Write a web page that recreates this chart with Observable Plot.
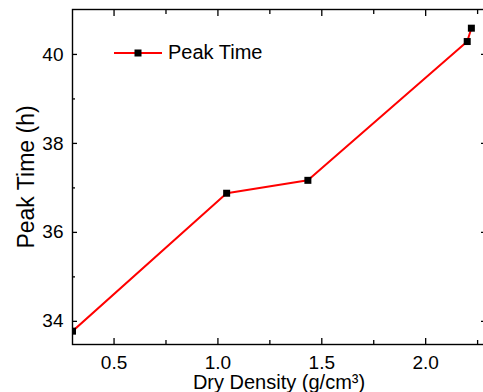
<!DOCTYPE html>
<html><head><meta charset="utf-8">
<script src="https://cdn.jsdelivr.net/npm/d3@7"></script>
<script src="https://cdn.jsdelivr.net/npm/@observablehq/plot@0.6"></script>
<style>
html,body{margin:0;padding:0;background:#fff;overflow:hidden;}
#wrap{position:relative;width:483px;height:392px;font-family:"Liberation Sans",Arial,sans-serif;}
#legend{position:absolute;left:114px;top:41px;display:flex;align-items:center;font-size:20px;line-height:23px;color:#000;}
#legend svg{display:block;margin-right:6px;}
</style></head><body><div id="wrap"><div id="legend"></div></div>
<script>
const density = [0.30, 1.042, 1.433, 2.20, 2.22];
const peakTime = [33.78, 36.88, 37.17, 40.29, 40.59];
const seriesName = "Peak Time";
const xTitle = "Dry Density (g/cm³)";
const yTitle = "Peak Time (h)";
const xTicks = [0.5, 1.0, 1.5, 2.0];
const xMinorTicks = [0.75, 1.25, 1.75, 2.25];
const yTicks = [34, 36, 38, 40];
const yMinorTicks = [35, 37, 39];

const data = density.map((d, i) => ({x: d, y: peakTime[i]}));
const blank = () => "";
const axisColor = "#000";

const chart = Plot.plot({
  width: 483,
  height: 392,
  marginLeft: 72,
  marginRight: -2,
  marginTop: 9,
  marginBottom: 48,
  style: {fontFamily: "'Liberation Sans', Arial, sans-serif", fontSize: "19px", background: "white", color: "#000"},
  x: {domain: [0.3, 2.288], axis: null},
  y: {domain: [33.48, 41.01], axis: null},
  marks: [
    Plot.line(data, {x: "x", y: "y", stroke: "#ff0000", strokeWidth: 2, clip: true}),
    Plot.dot(data, {x: "x", y: "y", symbol: "square", r: 3.95, fill: "black", stroke: "none", clip: true}),
    // bottom
    Plot.axisX({anchor: "bottom", ticks: xTicks, tickSize: -6, tickFormat: blank, strokeWidth: 1.3, label: null}),
    Plot.axisX({anchor: "bottom", ticks: xMinorTicks, tickSize: -4, tickFormat: blank, strokeWidth: 1.3, label: null}),
    Plot.axisX({anchor: "bottom", ticks: xTicks, tickSize: 0, tickPadding: 11, tickFormat: d3.format(".1f"), fontSize: 19, label: null}),
    // top
    Plot.axisX({anchor: "top", ticks: xTicks, tickSize: -6, tickFormat: blank, strokeWidth: 1.3, label: null}),
    Plot.axisX({anchor: "top", ticks: xMinorTicks, tickSize: -4, tickFormat: blank, strokeWidth: 1.3, label: null}),
    // left
    Plot.axisY({anchor: "left", ticks: yTicks, tickSize: -5, tickFormat: blank, strokeWidth: 1.3, label: null}),
    Plot.axisY({anchor: "left", ticks: yMinorTicks, tickSize: -3, tickFormat: blank, strokeWidth: 1.3, label: null}),
    Plot.axisY({anchor: "left", ticks: yTicks, tickSize: 0, tickPadding: 9, tickFormat: d => String(d), fontSize: 19, label: null}),
    // right
    Plot.axisY({anchor: "right", ticks: yTicks, tickSize: -5, tickFormat: blank, strokeWidth: 1.3, label: null}),
    Plot.axisY({anchor: "right", ticks: yMinorTicks, tickSize: -3, tickFormat: blank, strokeWidth: 1.3, label: null}),
    Plot.frame({stroke: axisColor, strokeWidth: 1.4}),
    Plot.text([xTitle], {frameAnchor: "bottom", textAnchor: "middle", dy: 38, fontSize: 20, lineAnchor: "middle", fill: "#000"}),
    Plot.text([yTitle], {frameAnchor: "left", textAnchor: "middle", lineAnchor: "middle", dx: -46, rotate: -90, fontSize: 23, fill: "#000"})
  ]
});
document.getElementById("wrap").appendChild(chart);

// legend
const lg = document.getElementById("legend");
const ns = "http://www.w3.org/2000/svg";
const s = document.createElementNS(ns, "svg");
s.setAttribute("width", 48); s.setAttribute("height", 10);
const ln = document.createElementNS(ns, "line");
ln.setAttribute("x1", 0); ln.setAttribute("x2", 48); ln.setAttribute("y1", 5); ln.setAttribute("y2", 5);
ln.setAttribute("stroke", "#ff0000"); ln.setAttribute("stroke-width", 2);
const sq = document.createElementNS(ns, "rect");
sq.setAttribute("x", 20.5); sq.setAttribute("y", 1.5); sq.setAttribute("width", 7); sq.setAttribute("height", 7);
sq.setAttribute("fill", "#000");
s.appendChild(ln); s.appendChild(sq);
lg.appendChild(s);
const t = document.createElement("span"); t.textContent = seriesName; lg.appendChild(t);
</script>
</body></html>
